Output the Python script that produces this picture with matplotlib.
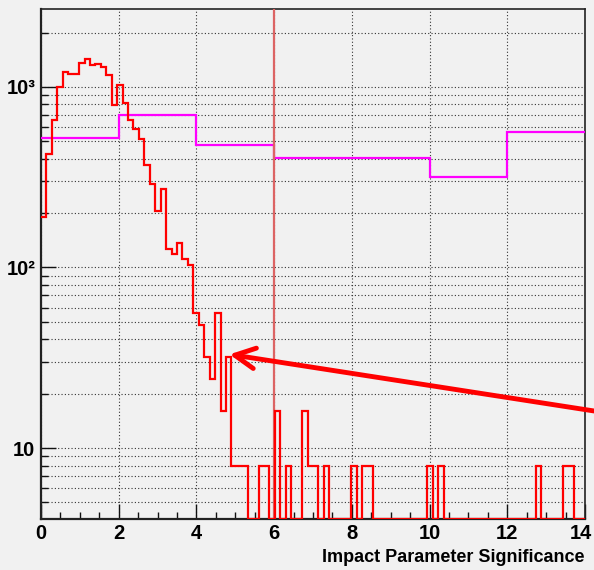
import numpy as np
import matplotlib
matplotlib.use("Agg")
import matplotlib.pyplot as plt
from matplotlib.ticker import LogLocator, MultipleLocator, NullFormatter
from matplotlib.transforms import ScaledTranslation

# impact parameter significance, 100 bins from 0 to 14 (weighted entries)
ip_range = (0.0, 14.0)
ip_counts = [
    191, 424, 656, 1000, 1216, 1180, 1180, 1353, 1435, 1323,
    1346, 1285, 1165, 798, 1020, 818, 656, 583, 513, 368,
    289, 206, 271, 127, 119, 136, 112, 103, 56, 48,
    32, 24, 56, 16, 32, 8, 8, 8, 0, 0,
    8, 8, 0, 16, 0, 8, 0, 0, 16, 8,
    8, 0, 8, 0, 0, 0, 0, 8, 0, 8,
    8, 0, 0, 0, 0, 0, 0, 0, 0, 0,
    0, 8, 0, 8, 0, 0, 0, 0, 0, 0,
    0, 0, 0, 0, 0, 0, 0, 0, 0, 0,
    0, 8, 0, 0, 0, 0, 8, 8, 0, 0,
]

# coarse reference histogram (variable binning)
ref_edges = [0, 2, 4, 6, 10, 12, 14]
ref_counts = [518, 695, 477, 404, 317, 563]

cut_value = 6.0
arrow_target = (4.85, 33)

x_ticks = [0, 2, 4, 6, 8, 10, 12, 14]
x_ticklabels = ["0", "2", "4", "6", "8", "10", "12", "14"]
y_ticks = [10, 100, 1000]
y_ticklabels = ["10", "10²", "10³"]
y_range = (4.07, 2690)

bg = "#f1f1f1"
plt.rcParams["font.family"] = ["Liberation Sans", "DejaVu Sans"]
plt.rcParams["font.weight"] = "bold"

fig = plt.figure(figsize=(5.94, 5.70), dpi=100, facecolor=bg)
ax = fig.add_axes([41 / 594, 1 - 518.5 / 570, 544 / 594, 509.2 / 570])
ax.set_facecolor(bg)
ax.set_yscale("log")
ax.set_xlim(*ip_range)
ax.set_ylim(*y_range)

# ROOT style dotted grid
ax.grid(which="major", axis="x", linestyle=(0, (1, 2)), color="#333333", linewidth=0.8)
ax.grid(which="both", axis="y", linestyle=(0, (1, 2)), color="#333333", linewidth=0.8)
ax.set_axisbelow(True)

edges = np.linspace(ip_range[0], ip_range[1], len(ip_counts) + 1)
counts = np.maximum(np.array(ip_counts, dtype=float), y_range[0])
ax.stairs(ref_counts, ref_edges, baseline=None, color="#ff00ff", linewidth=1.6, zorder=3)
ax.stairs(counts, edges, baseline=None, color="#ff0000", linewidth=1.6, zorder=4)
ax.axvline(cut_value, color="#dc6464", linewidth=1.6, zorder=3)

ax.set_xticks(x_ticks)
ax.set_xticklabels(x_ticklabels)
ax.xaxis.set_minor_locator(MultipleLocator(0.5))
ax.set_yticks(y_ticks)
ax.set_yticklabels(y_ticklabels)
ax.yaxis.set_minor_locator(LogLocator(base=10, subs=range(2, 10)))
ax.yaxis.set_minor_formatter(NullFormatter())

ax.tick_params(which="both", direction="in", top=False, right=False, width=1, color="#111111")
ax.tick_params(which="major", length=10.5, labelsize=14.5)
ax.tick_params(which="minor", length=5)
ax.tick_params(axis="x", which="major", pad=4)
ax.tick_params(axis="y", which="major", pad=4)

# keep the last x label inside the canvas
last = ax.get_xticklabels()[-1]
last.set_transform(last.get_transform() + ScaledTranslation(-4 / 100, 0, fig.dpi_scale_trans))

for side, sp in ax.spines.items():
    sp.set_color("#222222")
    sp.set_linewidth(1.6 if side in ("left", "bottom") else 1.2)

ax.set_xlabel("Impact Parameter Significance", fontsize=13, fontweight="bold")
ax.xaxis.set_label_coords(1.0, -(557 - 518.5) / 509.2)
ax.xaxis.label.set_horizontalalignment("right")
ax.xaxis.label.set_verticalalignment("center")

ax.annotate("", xy=arrow_target, xycoords="data",
            xytext=(1.0, 0.279), textcoords="figure fraction",
            arrowprops=dict(arrowstyle="->,head_length=0.73,head_width=0.37",
                            color="#ff0000", lw=3.5, shrinkA=0, shrinkB=0,
                            mutation_scale=20),
            annotation_clip=False, zorder=6)

fig.savefig("out.png", dpi=100, facecolor=bg)
